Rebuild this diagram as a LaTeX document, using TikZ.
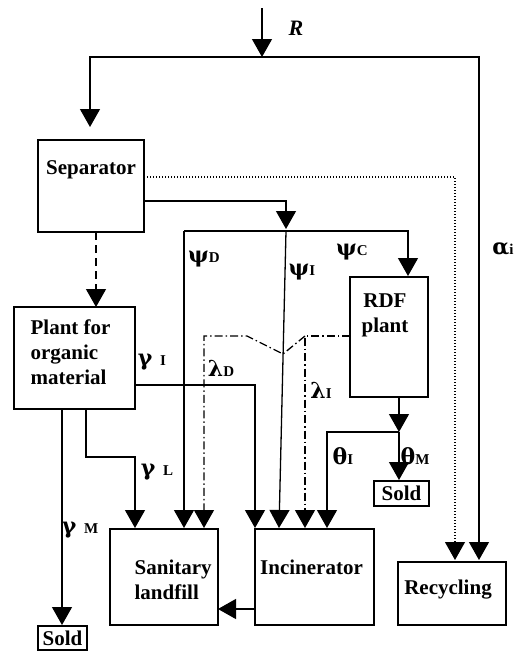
\documentclass[tikz,border=0pt]{standalone}
\usepackage{fontspec}
\setmainfont{Liberation Serif}
\newfontfamily\gkfont{DejaVu Serif}
\usetikzlibrary{arrows.meta}
\newcommand\gsub[1]{{\rmfamily\fontsize{15}{15}\selectfont\bfseries #1}}
\begin{document}
\begin{tikzpicture}[x=1pt,y=-1pt,line width=1.3pt,
  arr/.style={-{Triangle[width=20pt,length=18pt]}},
  box/.style={draw,line width=1.3pt,rectangle,inner sep=0pt},
  lbl/.style={font=\fontsize{21}{25}\selectfont\bfseries,inner sep=0pt},
  gk/.style={font=\gkfont\fontsize{22}{22}\selectfont\bfseries,inner sep=0pt},
  dotl/.style={line width=1.1pt,dash pattern=on 1.1pt off 1.9pt},
  dashl/.style={dash pattern=on 8pt off 5pt},
  dashdot/.style={dash pattern=on 8pt off 3pt on 1.5pt off 3pt}]
\useasboundingbox (0,0) rectangle (515,651);
% boxes
\node[box,minimum width=106pt,minimum height=92pt] (sep) at (91,186) {};
\node[box,minimum width=121pt,minimum height=102pt] (plant) at (74.5,358) {};
\node[box,minimum width=78pt,minimum height=120pt] (rdf) at (389,337) {};
\node[box,minimum width=108pt,minimum height=96pt] (land) at (164,577) {};
\node[box,minimum width=119pt,minimum height=96pt] (inc) at (314.5,577) {};
\node[box,minimum width=108pt,minimum height=63pt] (rec) at (452,593.5) {};
\node[box,minimum width=49pt,minimum height=24pt,lbl] (sold1) at (62.5,638) {Sold};
\node[box,minimum width=55pt,minimum height=25pt,lbl] (sold2) at (401.5,493.5) {Sold};
% box texts
\node[lbl] (tsep) at (91,170) {Separator};
\node[lbl,align=left,anchor=west] (tplant) at (30,352) {Plant for\\organic\\material};
\node[lbl,align=center] (trdf) at (385,315) {RDF\\plant};
\node[lbl,align=left,anchor=west] (tland) at (134,580) {Sanitary\\landfill};
\node[lbl] (tinc) at (311.5,567) {Incinerator};
\node[lbl] (trec) at (448,590) {Recycling};
% coordinates
\coordinate (in) at (262,8);
\coordinate (split) at (262,57);
\coordinate (sepIn) at (90,127);
\coordinate (rtop) at (479,57);
\coordinate (recA) at (479,560);
\coordinate (dotA) at (144,177);
\coordinate (dotB) at (455,177);
\coordinate (recB) at (455,560);
\coordinate (sA) at (144,201);
\coordinate (sB) at (286,201);
\coordinate (sC) at (286,229);
\coordinate (hL) at (184,231);
\coordinate (hM) at (286,231);
\coordinate (hR) at (408,231);
\coordinate (rdfIn) at (408,276);
\coordinate (landA) at (184,528);
\coordinate (incB) at (279,528);
\coordinate (orgA) at (96,232);
\coordinate (orgB) at (96,307);
\coordinate (gIa) at (135,385);
\coordinate (gIb) at (255,385);
\coordinate (incA) at (255,528);
\coordinate (gMa) at (62,409);
\coordinate (gMb) at (62,625);
\coordinate (gLa) at (86,409);
\coordinate (gLb) at (86,457);
\coordinate (gLc) at (135,457);
\coordinate (landL) at (135,528);
\coordinate (lA) at (350,336);
\coordinate (lB) at (305,336);
\coordinate (incC) at (305,528);
\coordinate (lC) at (283,354);
\coordinate (lD) at (247,336);
\coordinate (lE) at (204,336);
\coordinate (landB) at (204,528);
\coordinate (tA) at (399,397);
\coordinate (tB) at (399,432);
\coordinate (tC) at (327,432);
\coordinate (incD) at (327,528);
\coordinate (tD) at (399,480);
\coordinate (iw) at (255,609);
\coordinate (le) at (218,609);
% connectors
\draw[arr] (in) -- (split);
\draw[arr] (split) -- (90,57) -- (sepIn);
\draw[arr] (split) -- (rtop) -- (recA);
\draw[arr,dotl] (dotA) -- (dotB) -- (recB);
\draw[arr] (sA) -- (sB) -- (sC);
\draw[arr] (hL) -- (hR) -- (rdfIn);
\draw[arr] (hL) -- (landA);
\draw[arr] (hM) -- (incB);
\draw[arr,dashl] (orgA) -- (orgB);
\draw[arr] (gIa) -- (gIb) -- (incA);
\draw[arr] (gMa) -- (gMb);
\draw[arr] (gLa) -- (gLb) -- (gLc) -- (landL);
\draw[arr,dashdot] (lA) -- (lB) -- (incC);
\draw[arr,dashdot] (lB) -- (lC) -- (lD) -- (lE) -- (landB);
\draw[arr] (tA) -- (tB);
\draw[arr] (tB) -- (tC) -- (incD);
\draw[arr] (tB) -- (tD);
\draw[arr] (iw) -- (le);
% labels
\node[font=\fontsize{22}{22}\selectfont\bfseries\itshape,inner sep=0pt] (lR) at (296,28) {R};
\node[gk] (lpsiD) at (204,259) {ψ\gsub{D}};
\node[gk] (lpsiI) at (302,272) {ψ\gsub{I}};
\node[gk] (lpsiC) at (352,252) {ψ\gsub{C}};
\node[gk] (lalpha) at (503,249) {α\gsub{i}};
\node[gk] (lgI) at (152,362) {γ \gsub{I}};
\node[gk] (llD) at (221,368) {λ\gsub{D}};
\node[gk] (llI) at (321,390) {λ\gsub{I}};
\node[gk] (lgL) at (157,472) {γ \gsub{L}};
\node[gk] (lgM) at (80,530) {γ \gsub{M}};
\node[gk] (ltI) at (343,456) {θ\gsub{I}};
\node[gk] (ltM) at (415,456) {θ\gsub{M}};
\end{tikzpicture}
\end{document}
